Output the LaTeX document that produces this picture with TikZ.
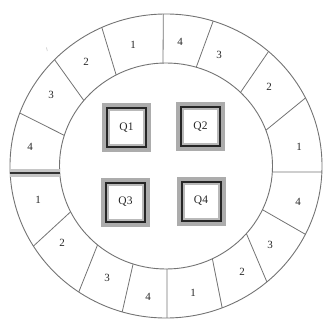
\documentclass[tikz,border=0pt]{standalone}
\usepackage{fontspec}
\setmainfont{Liberation Serif}
\begin{document}
\begin{tikzpicture}[x=1pt,y=-1pt,
  ring/.style={draw=black!55, line width=0.9pt},
  seg/.style={draw=black!55, line width=0.8pt},
  num/.style={font=\fontsize{11}{11}\selectfont, text=black!85, inner sep=0pt},
  qlab/.style={font=\fontsize{11.5}{11.5}\selectfont, text=black!85, inner sep=0pt}]
\useasboundingbox (0,0) rectangle (323,320);
% rings
\draw[ring] (166,166) ellipse [x radius=156, y radius=152];
\draw[ring] (166,166) ellipse [x radius=106.5, y radius=103];
% segment dividers (outer angle / inner angle)
\foreach \a/\b in {114.3/117.9, 135.6/140.5, 159.6/162.7, 91/91.6,
                   72.4/73.5, 48.9/45.6, 26.6/20.3, -2.26/-3.3,
                   -26.7/-25.1, -49.7/-41, -68.9/-64.2, -89.6/-89.5,
                   253.7/252, 236/230, 211.8/206.4}
  \draw[seg] ({166+156*cos(\a)},{166-152*sin(\a)}) -- ({166+106.5*cos(\b)},{166-103*sin(\b)});
% thick divider on the left
\coordinate (lo) at ({166+156*cos(182.6)},172.7);
\coordinate (li) at ({166+106.5*cos(183.9)},172.7);
\draw[gray!45, line width=8pt] (lo) -- (li);
\draw[black!80, line width=2.3pt] (lo) -- (li);
% stray speck
\draw[gray!45, line width=0.6pt] (46.5,47.5) -- (47.3,51);
% ring labels
\node[num] (t1)  at (133,45)  {1};
\node[num] (t2)  at (86,62)   {2};
\node[num] (t3)  at (51,95)   {3};
\node[num] (t4)  at (30,147)  {4};
\node[num] (r4)  at (180,42)  {4};
\node[num] (r3)  at (219,55)  {3};
\node[num] (r2)  at (269,87)  {2};
\node[num] (r1)  at (299,147) {1};
\node[num] (b4)  at (298,202) {4};
\node[num] (b3)  at (270,245) {3};
\node[num] (b2)  at (242,272) {2};
\node[num] (b1)  at (193,293) {1};
\node[num] (l4)  at (148,297) {4};
\node[num] (l3)  at (107,278) {3};
\node[num] (l2)  at (62,243)  {2};
\node[num] (l1)  at (38,200)  {1};
% Q boxes
\foreach \n/\x/\y in {Q1/126.5/127.5, Q2/200.5/127, Q3/125.5/202, Q4/201/201}{
  \begin{scope}[shift={(\x,\y)}]
    \fill[gray!65] (-24.5,-24.5) rectangle (24.5,24.5);
    \fill[black!85] (-20.5,-20.5) rectangle (20.5,20.5);
    \fill[gray!55] (-18.5,-18.5) rectangle (18.5,18.5);
    \fill[white] (-16.5,-16.5) rectangle (16.5,16.5);
    \node[qlab] (\n) at (0,0) {\n};
  \end{scope}
}
\end{tikzpicture}
\end{document}
